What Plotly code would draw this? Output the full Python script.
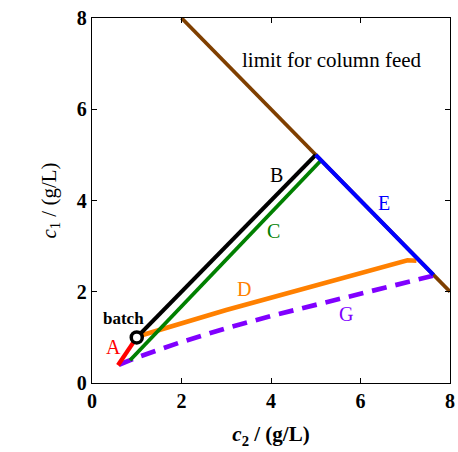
import plotly.graph_objects as go

# Operating-window boundaries in the (c2, c1) concentration plane, g/L
limit_c2 = [2.0, 8.0]
limit_c1 = [8.0, 2.0]

a_c2 = [0.58, 1.0]
a_c1 = [0.39, 1.0]

b_c2 = [1.0, 5.0]
b_c1 = [1.0, 5.0]

c_c2 = [0.85, 5.1]
c_c1 = [0.5, 4.86]

d_c2 = [1.0, 1.15, 3.0, 5.0, 6.9, 7.05, 7.25]
d_c1 = [1.0, 1.06, 1.6, 2.15, 2.65, 2.69, 2.68]

e_c2 = [5.0, 7.63]
e_c1 = [5.0, 2.37]

g_c2 = [0.6, 1.0, 2.0, 3.0, 4.0, 5.0, 6.0, 7.0, 7.62]
g_c1 = [0.4, 0.56, 0.9, 1.2, 1.47, 1.72, 1.96, 2.2, 2.35]

batch_c2 = [1.0]
batch_c1 = [1.0]

ticks = [0, 2, 4, 6, 8]

SERIF = "Liberation Serif"

fig = go.Figure()


def add_line(x, y, color, width=4, dash="solid"):
    fig.add_trace(go.Scatter(
        x=x, y=y, mode="lines",
        line=dict(color=color, width=width, dash=dash),
        hoverinfo="skip", showlegend=False,
    ))


add_line(limit_c2, limit_c1, "#7f3f00", width=3.7)
add_line(g_c2, g_c1, "#8000ff", width=4.7, dash="15px,9px")
add_line(d_c2, d_c1, "#ff8000", width=4.7)
add_line(c_c2, c_c1, "#008000", width=3.8)
add_line(a_c2, a_c1, "#ff0000", width=4.3)
add_line(b_c2, b_c1, "#000000", width=4.2)
add_line(e_c2, e_c1, "#0000ff", width=4.2)

fig.add_trace(go.Scatter(
    x=batch_c2, y=batch_c1, mode="markers",
    marker=dict(size=11, color="white", line=dict(color="black", width=3.5)),
    hoverinfo="skip", showlegend=False,
))

labels = [
    ("A", 0.47, 0.78, "#ff0000"),
    ("B", 4.13, 4.56, "#000000"),
    ("C", 4.05, 3.33, "#008000"),
    ("D", 3.4, 2.06, "#ff8000"),
    ("E", 6.52, 3.95, "#0000ff"),
    ("G", 5.68, 1.52, "#8000ff"),
]
for text, x, y, color in labels:
    fig.add_annotation(
        x=x, y=y, xref="x", yref="y", text=text,
        showarrow=False, font=dict(family=SERIF, size=20, color=color),
    )

fig.add_annotation(x=0.7, y=1.42, xref="x", yref="y", text="<b>batch</b>",
                   showarrow=False, font=dict(family=SERIF, size=17, color="black"))
fig.add_annotation(x=5.37, y=7.08, xref="x", yref="y", text="limit for column feed",
                   showarrow=False, font=dict(family=SERIF, size=21, color="black"))

axis_common = dict(
    range=[0, 8], tickvals=ticks, ticks="inside", ticklen=5, tickwidth=1,
    tickcolor="black", showline=True, linecolor="black", linewidth=1.3,
    mirror="ticks", showgrid=False, zeroline=False, fixedrange=True,
    ticklabeloverflow="allow",
    tickfont=dict(family=SERIF, size=20, color="black", weight="bold"),
)

fig.update_xaxes(
    **axis_common,
    title=dict(text="<b><i>c</i><sub>2</sub> / (g/L)</b>",
               font=dict(family=SERIF, size=21, color="black"), standoff=15),
)
fig.update_yaxes(
    **axis_common,
    title=dict(text="<i>c</i><sub>1</sub> / (g/L)",
               font=dict(family=SERIF, size=21, color="black"), standoff=14),
)

fig.update_layout(
    width=458, height=452,
    margin=dict(l=92, r=3, t=18, b=69),
    paper_bgcolor="white", plot_bgcolor="white",
)

fig.write_html("out.html")
